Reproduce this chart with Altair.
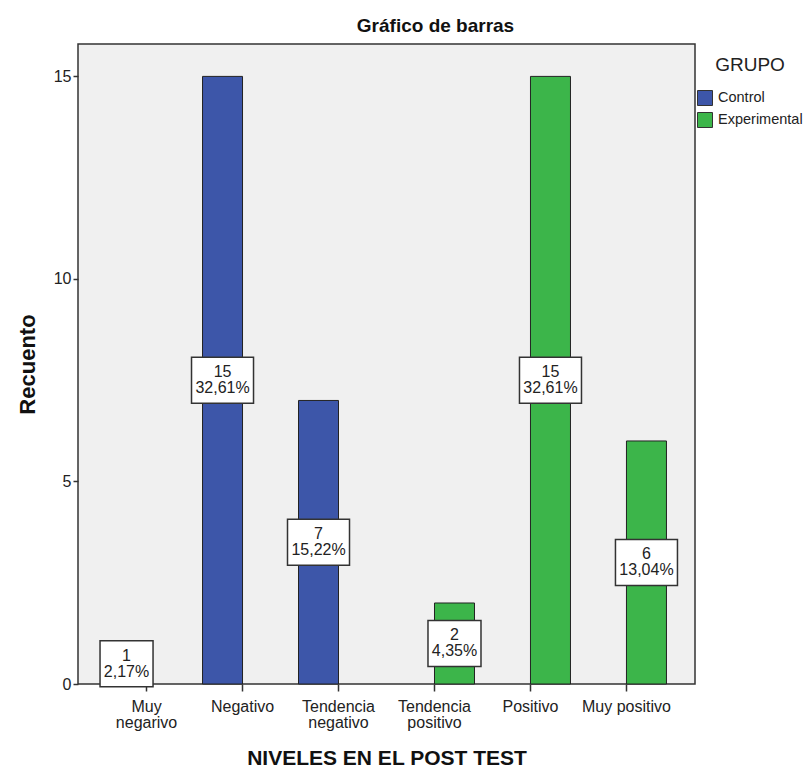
import altair as alt
import pandas as pd

# ---- data ----
categorias = ["Muy negarivo", "Negativo", "Tendencia negativo",
              "Tendencia positivo", "Positivo", "Muy positivo"]
grupos = ["Control", "Control", "Control",
          "Experimental", "Experimental", "Experimental"]
recuentos = [1, 15, 7, 2, 15, 6]
porcentajes = ["2,17%", "32,61%", "15,22%", "4,35%", "32,61%", "13,04%"]
etiquetas_eje = {
    "Muy negarivo": ["Muy", "negarivo"],
    "Negativo": ["Negativo"],
    "Tendencia negativo": ["Tendencia", "negativo"],
    "Tendencia positivo": ["Tendencia", "positivo"],
    "Positivo": ["Positivo"],
    "Muy positivo": ["Muy positivo"],
}
dominio_grupo = ["Control", "Experimental"]
colores = ["#3D56A9", "#3CB54A"]

FONT = "Liberation Sans"

df = pd.DataFrame({
    "categoria": categorias,
    "grupo": grupos,
    "recuento": recuentos,
    "pct": porcentajes,
})
df["medio"] = df["recuento"] / 2
df["texto"] = df["recuento"].astype(str) + "\n" + df["pct"]
# label box shape: wider for longer percentage strings
def caja(p):
    hx = 1.0 if len(p) >= 6 else 0.855
    return f"M-{hx},-0.742L{hx},-0.742L{hx},0.742L-{hx},0.742Z"
df["caja"] = df["pct"].apply(caja)

label_expr = " : ".join(
    f"datum.label == '{k}' ? {v!r}" for k, v in etiquetas_eje.items()
) + " : datum.label"

x_enc = alt.X(
    "categoria:N",
    sort=categorias,
    scale=alt.Scale(domain=categorias, paddingInner=0, paddingOuter=0.214),
    axis=alt.Axis(
        title="NIVELES EN EL POST TEST",
        titleFont=FONT, titleFontSize=21, titleFontWeight="bold", titleColor="#111",
        titleX=308.5, titleY=74, titleBaseline="middle", titleAlign="center",
        labelExpr=label_expr, labelAngle=0, labelFont=FONT, labelFontSize=16,
        labelColor="#222", labelLineHeight=16, labelPadding=7, labelBaseline="top",
        tickSize=7, tickColor="#333", tickWidth=1.5, domain=False, grid=False,
    ),
)
xoff = alt.XOffset(
    "grupo:N",
    scale=alt.Scale(domain=dominio_grupo, paddingInner=0, paddingOuter=0.2),
)
y_scale = alt.Scale(domain=[0, 15.8], nice=False, zero=True)

barras = alt.Chart(df).mark_bar(stroke="#222", strokeWidth=1).encode(
    x=x_enc,
    xOffset=xoff,
    y=alt.Y(
        "recuento:Q",
        scale=y_scale,
        axis=alt.Axis(
            title="Recuento", values=[0, 5, 10, 15],
            titleFont=FONT, titleFontSize=22, titleFontWeight="bold", titleColor="#111",
            titleX=-51, titleY=320, titleAngle=-90, titleBaseline="middle",
            titleAlign="center",
            labelFont=FONT, labelFontSize=16, labelColor="#222", labelPadding=2,
            tickSize=5, tickColor="#333", tickWidth=1.5, domain=False, grid=False,
        ),
    ),
    color=alt.Color(
        "grupo:N",
        scale=alt.Scale(domain=dominio_grupo, range=colores),
        legend=alt.Legend(
            orient="none", legendX=619, legendY=12, title="GRUPO",
            titleFont=FONT, titleFontSize=19, titleFontWeight="normal",
            titleColor="#222", titleAnchor="middle", titlePadding=15,
            symbolType="square", symbolSize=225, symbolStrokeColor="#333",
            symbolStrokeWidth=1, labelFont=FONT, labelFontSize=14.5,
            labelColor="#222", labelOffset=5, rowPadding=2, padding=0,
        ),
    ),
)

cajas = alt.Chart(df).mark_point(
    filled=True, fill="white", stroke="#333", strokeWidth=1.5, opacity=1, size=3844
).encode(
    x=alt.X("categoria:N", sort=categorias),
    xOffset=alt.XOffset("grupo:N"),
    y=alt.Y("medio:Q"),
    shape=alt.Shape("caja:N", scale=None),
)

textos = alt.Chart(df).mark_text(
    font=FONT, fontSize=16, lineHeight=16, lineBreak="\n",
    baseline="middle", align="center", color="#222", dy=-8,
).encode(
    x=alt.X("categoria:N", sort=categorias),
    xOffset=alt.XOffset("grupo:N"),
    y=alt.Y("medio:Q"),
    text="texto:N",
)

chart = alt.layer(barras, cajas, textos).properties(
    width=617,
    height=640,
    title=alt.TitleParams(
        "Gráfico de barras", font=FONT, fontSize=19, fontWeight="bold",
        color="#111", anchor="middle", frame="group", dx=49, dy=21,
        baseline="alphabetic", offset=14,
    ),
    autosize=alt.AutoSizeParams(type="none"),
    padding={"left": 70, "top": 36, "right": 108, "bottom": 85},
).configure(
    background="white"
).configure_view(
    fill="#F0F0F0", stroke="#333", strokeWidth=1.5
)

chart.save("out.html", embed_options={"renderer": "svg", "actions": False})
